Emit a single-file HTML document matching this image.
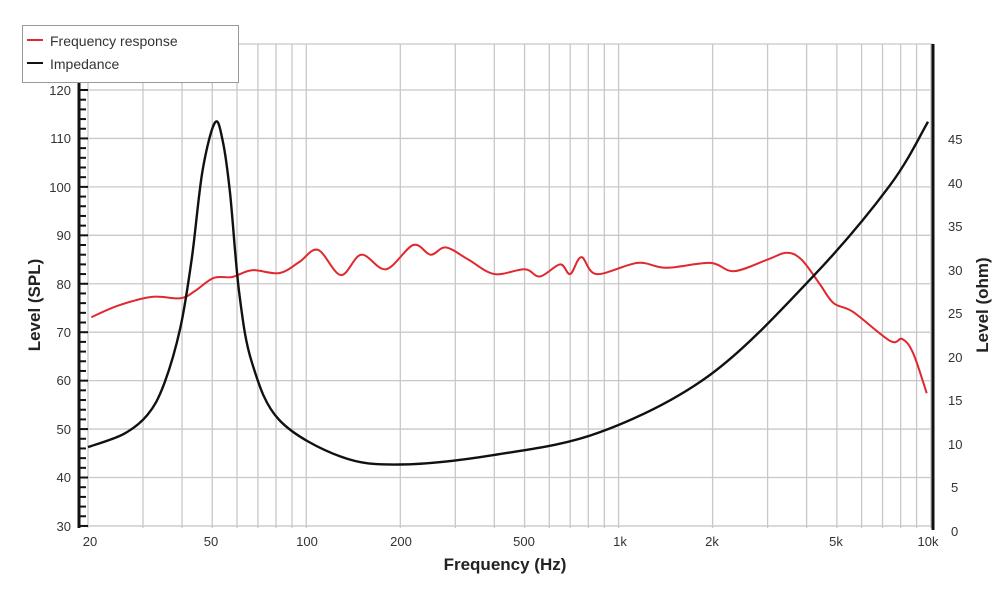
<!DOCTYPE html>
<html><head><meta charset="utf-8"><style>
body{margin:0;background:#fff}
svg text{font-family:"Liberation Sans",sans-serif;fill:#333}
</style></head><body>
<svg id="s" width="1000" height="600" viewBox="0 0 1000 600" xmlns="http://www.w3.org/2000/svg">
<g id="grid" stroke="#c8c8c8" stroke-width="1.3"></g>
<g id="ticks" stroke="#111" stroke-width="2"></g>
<line x1="79" y1="80" x2="79" y2="528" stroke="#111" stroke-width="3"/>
<line x1="933" y1="44" x2="933" y2="530" stroke="#111" stroke-width="3"/>
<path id="red" fill="none" stroke="#e0282e" stroke-width="2"/>
<path id="blk" fill="none" stroke="#111" stroke-width="2.4"/>
<g font-size="13" text-anchor="end">
<text x="71" y="95">120</text><text x="71" y="143">110</text><text x="71" y="192">100</text><text x="71" y="240">90</text><text x="71" y="289">80</text><text x="71" y="337">70</text><text x="71" y="385">60</text><text x="71" y="434">50</text><text x="71" y="482">40</text><text x="71" y="531">30</text>
</g>
<g font-size="13" text-anchor="start">
<text x="948" y="144">45</text><text x="948" y="188">40</text><text x="948" y="231">35</text><text x="948" y="275">30</text><text x="948" y="318">25</text><text x="948" y="362">20</text><text x="948" y="405">15</text><text x="948" y="449">10</text><text x="951" y="492">5</text><text x="951" y="536">0</text>
</g>
<g font-size="13" text-anchor="middle">
<text x="90" y="546">20</text><text x="211" y="546">50</text><text x="307" y="546">100</text><text x="401" y="546">200</text><text x="524" y="546">500</text><text x="620" y="546">1k</text><text x="712" y="546">2k</text><text x="836" y="546">5k</text><text x="928" y="546">10k</text>
</g>
<text x="505" y="570" font-size="17" font-weight="bold" text-anchor="middle" style="fill:#222">Frequency (Hz)</text>
<text transform="translate(40,305) rotate(-90)" font-size="17" font-weight="bold" text-anchor="middle" style="fill:#222">Level (SPL)</text>
<text transform="translate(988,305) rotate(-90)" font-size="17" font-weight="bold" text-anchor="middle" style="fill:#222">Level (ohm)</text>
<rect x="22.5" y="25.5" width="216" height="57" fill="#fff" stroke="#999" stroke-width="1"/>
<line x1="27" y1="40" x2="43" y2="40" stroke="#e0282e" stroke-width="2"/>
<line x1="27" y1="63" x2="43" y2="63" stroke="#111" stroke-width="2"/>
<text x="50" y="46" font-size="14">Frequency response</text>
<text x="50" y="69" font-size="14">Impedance</text>
</svg>
<script>
const X=f=>88+Math.log10(f/20)*312.3;
const YL=v=>90+(120-v)*4.844;
const YR=o=>528-o*8.7;
const ns="http://www.w3.org/2000/svg";
const g=document.getElementById('grid'),t=document.getElementById('ticks');
function ln(p,a,b,c,d){const l=document.createElementNS(ns,'line');l.setAttribute('x1',a);l.setAttribute('y1',b);l.setAttribute('x2',c);l.setAttribute('y2',d);p.appendChild(l);}
for(const d of [10,100,1000]){for(let k=1;k<10;k++){const f=d*k;if(f<20||f>10000)continue;const x=X(f);ln(g,x,44,x,528);}}
ln(g,X(10000),44,X(10000),528);
ln(g,88,44,933,44);
for(let v=30;v<=120;v+=10)ln(g,88,YL(v),933,YL(v));
for(let v=30;v<=120;v+=2){ln(t,79,YL(v),v%10==0?88:86,YL(v));}
function path(pts,Y){const P=pts.map(p=>[X(p[0]),Y(p[1])]);let d='M'+P[0][0]+','+P[0][1];
for(let i=0;i<P.length-1;i++){const p0=P[i-1]||P[i],p1=P[i],p2=P[i+1],p3=P[i+2]||P[i+1];
d+=` C${p1[0]+(p2[0]-p0[0])/6},${p1[1]+(p2[1]-p0[1])/6} ${p2[0]-(p3[0]-p1[0])/6},${p2[1]-(p3[1]-p1[1])/6} ${p2[0]},${p2[1]}`;}return d;}
const red=[[20.5,73.1],[25,75.5],[32,77.3],[39.5,77],[44,78.5],[50.5,81.2],[58,81.4],[67,82.8],[82,82.2],[95,84.5],[109,87],[129,81.8],[150,86],[180,83],[220,88],[250,86],[280,87.5],[330,85],[400,82],[500,83],[560,81.5],[650,84],[700,82],[760,85.5],[850,82],[1150,84.3],[1420,83.3],[1963,84.3],[2340,82.6],[3000,85],[3450,86.4],[3850,85],[4400,80],[4880,76],[5630,74.2],[7400,68.2],[8100,68.6],[8770,65.7],[9700,57.4]];
const blk=[[20,9.3],[26,10.8],[31,13],[35,16.5],[39.5,23],[43,31],[46.5,41],[51,46.6],[54,44.5],[57,38.5],[61,27],[67,19],[82,12.4],[129,8.2],[200,7.3],[400,8.4],[870,11],[1963,17.6],[4190,28.9],[7400,39.4],[9790,46.7]];
document.getElementById('red').setAttribute('d',path(red,YL));
document.getElementById('blk').setAttribute('d',path(blk,YR));
</script>
</body></html>
